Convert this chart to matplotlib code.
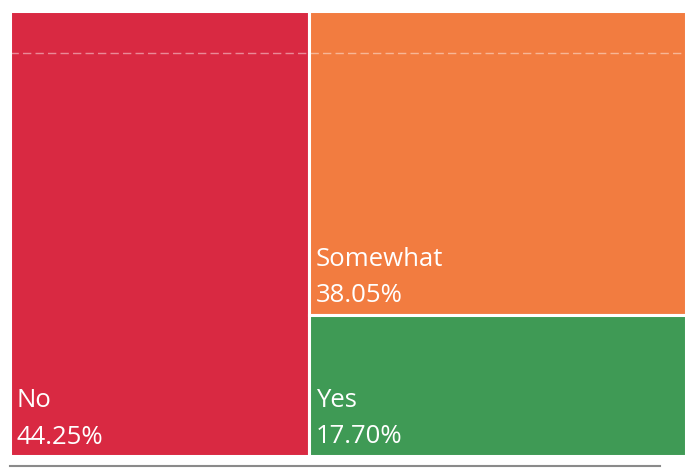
import matplotlib.pyplot as plt
from matplotlib.patches import Rectangle

labels = ["No", "Somewhat", "Yes"]
values = [44.25, 38.05, 17.70]
colors = ["#D92942", "#F27C40", "#3F9A55"]

plt.rcParams['font.family'] = ['Open Sans', 'DejaVu Sans']

fig = plt.figure(figsize=(6.86, 4.72), dpi=100)
ax = fig.add_axes([10/686, 1-456/472, 676/686, 445/472])
ax.set_xlim(0, 100)
ax.set_ylim(0, 100)
ax.axis("off")

total = sum(values)
# first block takes a full-height column, the rest stack in the other column
w0 = values[0] / total * 100
rects = [(0, 0, w0, 100)]
rest = sum(values[1:])
y = 100
for v in values[1:]:
    h = v / rest * 100
    y -= h
    rects.append((w0, y, 100 - w0, h))

for (x0, y0, w, h), lab, v, c in zip(rects, labels, values, colors):
    ax.add_patch(Rectangle((x0, y0), w, h, facecolor=c, edgecolor="white", linewidth=2.2))
    ax.annotate(f"{lab}\n{v:.2f}%", xy=(x0, y0), xytext=(5, 9), textcoords="offset points",
                color="white", fontsize=18.5, ha="left", va="baseline", linespacing=1.58)

# faint scan line near the top
ax.plot([0, 100], [90.5, 90.5], color="white", linewidth=1, alpha=0.45, linestyle=(0, (6, 3)))

# grey rule under the chart
fig.add_artist(plt.Line2D([10/686, 660/686], [1-466/472, 1-466/472], color="#8a8a8a", linewidth=1.5))

fig.savefig("out.png", dpi=100)
